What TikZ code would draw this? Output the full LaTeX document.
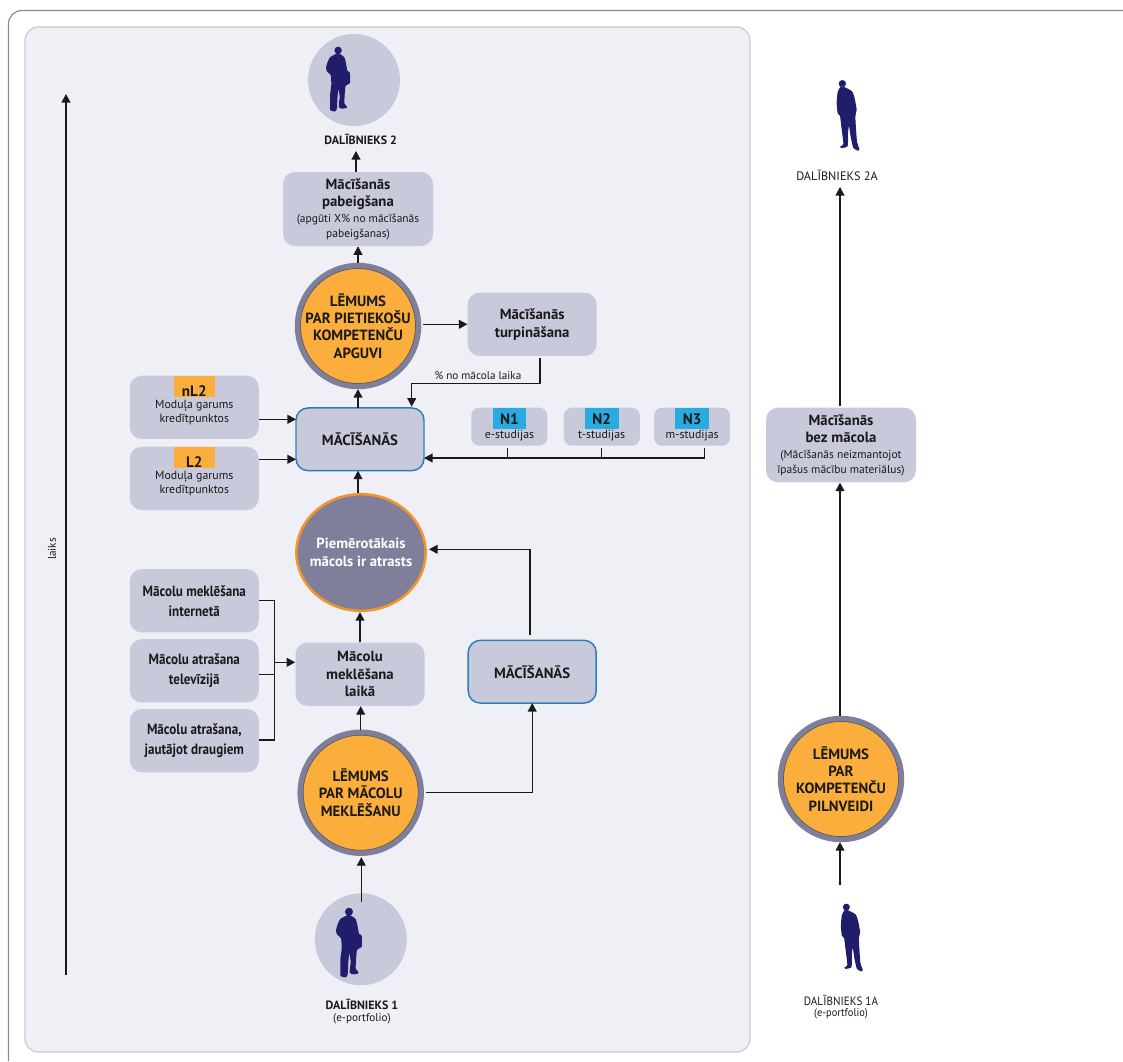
\documentclass[tikz,border=0pt]{standalone}
\usepackage{fontspec}
\setmainfont{PT Sans}
\usetikzlibrary{arrows.meta,shapes.geometric}
\definecolor{boxc}{HTML}{C9C9DC}
\definecolor{panelc}{HTML}{EFEFF6}
\definecolor{panelb}{HTML}{C9C9CF}
\definecolor{framec}{HTML}{8C8C8C}
\definecolor{orangec}{HTML}{FBAE3C}
\definecolor{orangeb}{HTML}{F0962A}
\definecolor{ringc}{HTML}{7F7F9B}
\definecolor{tagb}{HTML}{29ABE2}
\definecolor{blueb}{HTML}{2E7EBC}
\definecolor{personc}{HTML}{201D6B}
\definecolor{inkc}{HTML}{1A1A1A}
\newcommand\hb[1]{\scalebox{.875}[1]{#1}}
\newcommand\subtfont{\fontsize{8.6}{10.2}\selectfont\mdseries}
\newcommand\silbag[3]{\fill[personc,shift={(#1,#2)},scale=#3] (72,20) circle[radius=12]
 plot[smooth cycle,tension=.35] coordinates {(68,30)(46,42)(38,58)(33,75)(36,88)(48,100)(50,130)(46,165)(46,205)(48,214)(62,217)(68,208)(70,170)(73,145)(77,170)(74,203)(86,208)(100,205)(98,197)(92,190)(96,135)(110,126)(110,92)(102,86)(97,60)(92,42)(78,32)};}
\newcommand\silplain[3]{\fill[personc,shift={(#1,#2)},scale=#3] (97,41) circle[radius=11]
 plot[smooth cycle,tension=.35] coordinates {(92,50)(83,66)(80,100)(83,130)(90,138)(94,170)(100,222)(90,230)(95,234)(113,228)(114,190)(117,168)(122,200)(130,234)(145,242)(148,236)(141,215)(136,140)(140,120)(134,85)(126,64)(105,52)};}
\tikzset{
 every node/.style={text=inkc,inner sep=1pt,align=center},
 bx/.style={rectangle,rounded corners=9pt,fill=boxc,minimum width=#1*.75pt,minimum height=47.5pt,font=\fontsize{11.1}{13.2}\selectfont\bfseries},
 bx/.default=129,
 subt/.style={font=\fontsize{8.9}{10.4}\selectfont},
 blu/.style={bx,draw=blueb,line width=1.1pt,outer sep=0pt,minimum width=96pt,minimum height=47pt},
 lem/.style={circle,minimum size=86.25pt,inner sep=0pt,fill=orangec,draw=black!65,line width=.5pt,outer sep=4.2pt,
   preaction={draw=ringc,line width=8.6pt}},
 lemt/.style={font=\fontsize{11.1}{13}\selectfont\bfseries},
 persc/.style={circle,fill=boxc,minimum size=69pt,inner sep=0pt},
 tago/.style={rectangle,fill=orangec,minimum width=31pt,minimum height=16pt,inner sep=0pt},
 tagn/.style={rectangle,fill=tagb,minimum width=25pt,minimum height=16pt,inner sep=0pt},
 tagt/.style={font=\fontsize{11.4}{12}\selectfont\bfseries},
 lnk/.style={draw=inkc,line width=1pt},
 arr/.style={lnk,-{Triangle[width=6.6pt,length=6.4pt]}},
 lab/.style={font=\fontsize{8.4}{11}\selectfont},
 labb/.style={font=\fontsize{9}{11}\selectfont\bfseries},
 inb/.style={bx,font=\fontsize{11.2}{15}\selectfont\bfseries},
}
\begin{document}
\begin{tikzpicture}[x=.75pt,y=-.75pt]
\useasboundingbox (0,0) rectangle (1123,1061);
\begin{scope}
\clip (0,0) rectangle (1123,1061);
\draw[framec,line width=.9pt,rounded corners=10pt] (1135,10.5) -- (8.5,10.5) -- (8.5,1061);
\end{scope}
\draw[fill=panelc,draw=panelb,line width=.9pt,rounded corners=10pt] (25,27) rectangle (750,1052);

% axis
\coordinate (axb) at (66,975);
\coordinate (axt) at (66,94);
\draw[arr] (axb) -- (axt);
\node[lab,rotate=90] (laiks) at (52,549) {laiks};

% participant 2
\node[persc] (per2) at (354,80) {};
\silbag{315.8}{44.2}{.31}
\node[labb] (d2) at (360.7,139) {DALĪBNIEKS 2};

\node[bx=150,minimum height=55.5pt] (pab) at (358,209) {Mācīšanās\\pabeigšana\\[-1.5pt]\subtfont (apgūti X\% no mācīšanās\\[-2pt]\subtfont pabeigšanas)};
\node[lem] (lem2) at (358,326) {};
\node[lemt] (lem2t) at (lem2.center) {LĒMUMS\\PAR PIETIEKOŠU\\KOMPETENČU\\APGUVI};
\node[bx] (tur) at (532.2,324.3) {Mācīšanās\\turpināšana};
\node[lab] (pct) at (478,376) {\% no mācola laika};

\node[bx] (nl2) at (194.3,407.3) {};
\node[tago,anchor=north] (tagnl) at (nl2.north) {};
\node[tagt] (tnl) at (194.3,390.7) {nL2};
\node[subt] (tnlb) at (194.3,412.5) {Moduļa garums\\[.5pt]kredītpunktos};
\node[bx] (l2) at (194.3,478.4) {};
\node[tago,anchor=north] (tagl) at (l2.north) {};
\node[tagt] (tl) at (194.3,461.7) {L2};
\node[subt] (tlb) at (194.3,483.5) {Moduļa garums\\[.5pt]kredītpunktos};

\node[blu] (mac) at (360,439.3) {MĀCĪŠANĀS};

\foreach \n/\xx/\lbl/\subl/\tx in {n1/509.3/N1/e-studijas/509.5,n2/601.9/N2/t-studijas/601.7,n3/692/N3/m-studijas/692.2}{
 \node[bx=76,minimum height=28.5pt,rounded corners=6pt] (\n) at (\xx,426.7) {};
 \node[tagn,anchor=north] (tag\n) at (\n.north) {};
 \node[tagt] (t\n) at (\tx,419.2) {\lbl};
 \node[subt] (s\n) at (\tx,435.5) {\subl};
}

\node[ellipse,fill=ringc,draw=orangeb,line width=1.9pt,minimum width=97pt,minimum height=87.5pt,inner sep=0pt] (pie) at (361,552.5) {};
\node[font=\fontsize{11}{13.6}\selectfont\bfseries] (piet) at (pie.center) {\textcolor{white}{Piemērotākais}\\\textcolor{white}{mācols ir atrasts}};

\node[inb] (in1) at (194.3,600.8) {\hb{Mācolu meklēšana}\\\hb{internetā}};
\node[inb] (in2) at (194.3,670.8) {\hb{Mācolu atrašana}\\\hb{televīzijā}};
\node[inb] (in3) at (194.3,740.7) {\hb{Mācolu atrašana,}\\\hb{jautājot draugiem}};

\node[bx] (mek) at (360,674.2) {Mācolu\\meklēšana\\laikā};
\node[blu] (mac2) at (532.2,671.7) {MĀCĪŠANĀS};
\node[lem] (lem3) at (360.7,792.7) {};
\node[lemt] (lem3t) at (lem3.center) {LĒMUMS\\PAR MĀCOLU\\MEKLĒŠANU};

\node[persc] (per1) at (360.8,939.3) {};
\silbag{325}{905}{.3333}
\node[labb] (d1) at (362,1004) {DALĪBNIEKS 1};
\node[lab] (d1b) at (362,1018.7) {(e-portfolio)};

% right column
\silplain{810}{70}{.3333}
\node[lab,font=\fontsize{9.2}{11}\selectfont] (d2a) at (837,175) {DALĪBNIEKS 2A};
\node[bx=150,minimum height=56pt] (free) at (841,445) {Mācīšanās\\bez mācola\\[-1.5pt]\subtfont (Mācīšanās neizmantojot\\[-2pt]\subtfont īpašus mācību materiālus)};
\node[lem] (lem4) at (841,779) {};
\node[lemt] (lem4t) at (lem4.center) {LĒMUMS\\PAR\\KOMPETENČU\\PILNVEIDI};
\silplain{815.3}{894}{.32}
\node[lab,font=\fontsize{9}{11}\selectfont] (d1a) at (841,1000) {\scalebox{.93}[1]{DALĪBNIEKS 1A}};
\node[lab] (d1ab) at (841,1014) {\scalebox{.93}[1]{(e-portfolio)}};

% helper coordinates
\coordinate (x2) at (356,151);
\coordinate (ynl) at (0,419.3);
\coordinate (ylt) at (0,459.3);
\coordinate (ybus) at (0,458);
\coordinate (bend) at (411.7,383.3);
\coordinate (tk1) at (507.3,448.3);
\coordinate (tk2) at (601.3,448.3);
\coordinate (tk3) at (704.3,448.3);
\coordinate (by1) at (0,600.7);
\coordinate (by2) at (0,674.7);
\coordinate (by3) at (0,740);
\coordinate (bya) at (0,662.3);
\coordinate (brx) at (274.7,0);
\coordinate (p1s) at (361.3,902.3);
\coordinate (p1at) at (840,885);
\coordinate (m2s) at (530,635);
\coordinate (rtip) at (429,549.3);
\coordinate (tu) at (540,358);
\coordinate (rx) at (840,0);
\coordinate (ra) at (840,187);

% connectors
\draw[arr] (x2 |- pab.north) -- (x2);
\draw[arr] (lem2.north) -- (lem2.north |- pab.south);
\draw[arr] (tur.west -| lem2.east) ++(2,0) -- (tur.west);
\draw[lnk] (tu) -- (tu |- bend) -- (bend);
\draw[arr,shorten >=1pt] (bend) -- (bend |- mac.north);
\draw[arr] (mac.north -| lem2) -- (lem2.south);
\draw[arr] (nl2.east |- ynl) -- (mac.west |- ynl);
\draw[arr] (l2.east |- ylt) -- (mac.west |- ylt);
\draw[arr] (tk3) -- (tk3 |- ybus) -- (mac.east |- ybus);
\draw[lnk] (tk1) -- (tk1 |- ybus);
\draw[lnk] (tk2) -- (tk2 |- ybus);
\draw[arr] (pie.north -| lem2) -- (mac.south -| lem2);
\draw[arr] (mek.north) -- (mek.north |- pie.south);
\draw[lnk] (in1.east |- by1) -- (brx |- by1) -- (brx |- by3) -- (in3.east |- by3);
\draw[lnk] (in2.east |- by2) -- (brx |- by2);
\draw[arr] (brx |- bya) -- (mek.west |- bya);
\draw[arr] (lem3.north) -- (lem3.north |- mek.south);
\draw[arr] (lem3.east) ++(2,0) -| (mac2.south);
\draw[arr] (m2s) -- (m2s |- rtip) -- (rtip);
\draw[arr,shorten >=1pt] (p1s) -- (p1s |- lem3.south);
\draw[arr] (lem4.north -| rx) -- (free.south -| rx);
\draw[arr] (free.north -| rx) ++(0,-1) -- (ra);
\draw[arr] (p1at) -- (p1at |- lem4.south);
\end{tikzpicture}
\end{document}
